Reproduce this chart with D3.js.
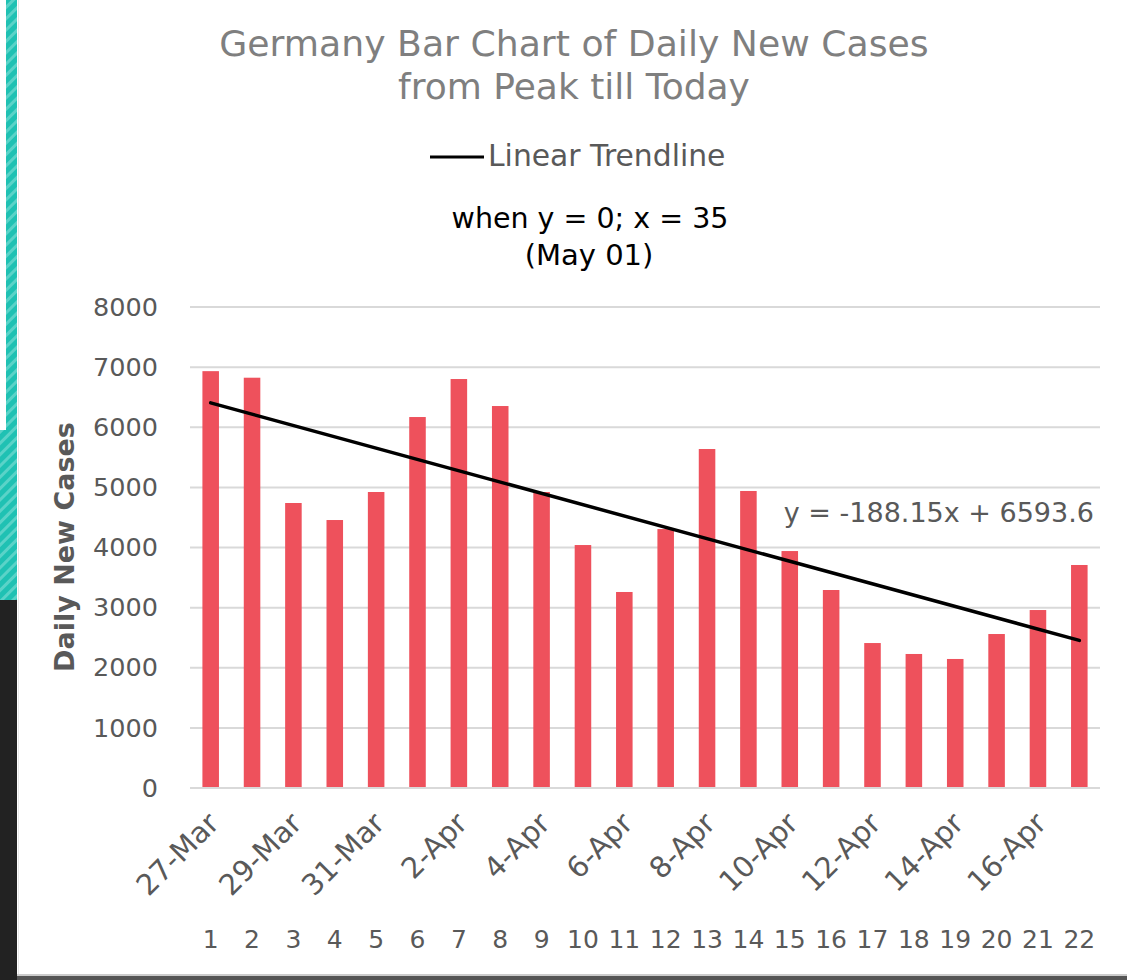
<!DOCTYPE html>
<html>
<head>
<meta charset="utf-8">
<script src="https://d3js.org/d3.v7.min.js"></script>
<style>
  body { margin: 0; background: #fff; }
  svg { display: block; }
</style>
</head>
<body>
<div id="chart"></div>
<script>
// daily new cases, Germany, 27-Mar .. 17-Apr
var dayNums = d3.range(1, 23);
var dateLabels = ["27-Mar","28-Mar","29-Mar","30-Mar","31-Mar","1-Apr","2-Apr","3-Apr","4-Apr","5-Apr","6-Apr",
                  "7-Apr","8-Apr","9-Apr","10-Apr","11-Apr","12-Apr","13-Apr","14-Apr","15-Apr","16-Apr","17-Apr"];
var cases = [6933, 6824, 4740, 4457, 4923, 6170, 6802, 6353, 4923, 4041, 3260,
             4307, 5638, 4940, 3941, 3293, 2411, 2229, 2146, 2561, 2960, 3709];
var yTicks = [0, 1000, 2000, 3000, 4000, 5000, 6000, 7000, 8000];
var slope = -188.15, intercept = 6593.6;

var W = 1127, H = 980;
var margin = {top: 307, right: 27, bottom: 192, left: 190},
    width = W - margin.left - margin.right,
    height = H - margin.top - margin.bottom;

var font = "DejaVu Sans";
var grey = "#595959";

var root = d3.select("#chart").append("svg")
    .attr("width", W)
    .attr("height", H)
    .style("font-family", font);

// slide decoration on the left edge
var defs = root.append("defs");
var pat = defs.append("pattern")
    .attr("id", "stripes")
    .attr("patternUnits", "userSpaceOnUse")
    .attr("width", 8).attr("height", 8)
    .attr("patternTransform", "rotate(45)");
pat.append("rect").attr("width", 8).attr("height", 8).attr("fill", "#1fc1b3");
pat.append("rect").attr("width", 3).attr("height", 8).attr("fill", "#5ad3c8");

root.append("rect").attr("x", 6).attr("y", 0).attr("width", 11).attr("height", 430).attr("fill", "url(#stripes)");
root.append("rect").attr("x", 0).attr("y", 430).attr("width", 17).attr("height", 170).attr("fill", "url(#stripes)");
root.append("rect").attr("x", 0).attr("y", 600).attr("width", 17).attr("height", 380).attr("fill", "#222");
root.append("line").attr("x1", 18.5).attr("x2", 18.5).attr("y1", 0).attr("y2", H).attr("stroke", "#e6e6e6");
root.append("rect").attr("x", 17).attr("y", 975).attr("width", W).attr("height", 5).attr("fill", "#555");
root.append("rect").attr("x", 17).attr("y", 974).attr("width", W).attr("height", 2).attr("fill", "#ccc");

// titles
root.append("text").attr("x", 574).attr("y", 56).attr("text-anchor", "middle")
    .attr("font-size", 36.2).attr("fill", "#7f7f7f").text("Germany Bar Chart of Daily New Cases");
root.append("text").attr("x", 574).attr("y", 99).attr("text-anchor", "middle")
    .attr("font-size", 36).attr("fill", "#7f7f7f").text("from Peak till Today");

// legend
root.append("line").attr("x1", 430).attr("x2", 484).attr("y1", 157).attr("y2", 157)
    .attr("stroke", "#000").attr("stroke-width", 3);
root.append("text").attr("x", 488).attr("y", 166).attr("font-size", 29.8).attr("fill", grey).text("Linear Trendline");

root.append("text").attr("x", 590).attr("y", 228).attr("text-anchor", "middle")
    .attr("font-size", 28.5).attr("fill", "#000").text("when y = 0; x = 35");
root.append("text").attr("x", 589).attr("y", 265).attr("text-anchor", "middle")
    .attr("font-size", 29).attr("fill", "#000").text("(May 01)");

var svg = root.append("g")
    .attr("transform", "translate(" + margin.left + "," + margin.top + ")");

var x = d3.scaleBand()
    .domain(dayNums)
    .range([0, width])
    .paddingInner(0.6)
    .paddingOuter(0.3);

var y = d3.scaleLinear()
    .domain([0, 8000])
    .range([height, 0]);

// gridlines
svg.append("g")
  .selectAll("line")
  .data(yTicks)
  .enter()
  .append("line")
    .attr("x1", 0).attr("x2", width)
    .attr("y1", function(d) { return y(d); })
    .attr("y2", function(d) { return y(d); })
    .attr("stroke", "#d9d9d9")
    .attr("stroke-width", 2);

// y axis labels
var yAxis = svg.append("g")
    .call(d3.axisLeft(y).tickValues(yTicks).tickSize(0).tickPadding(32).tickFormat(d3.format("d")));
yAxis.select(".domain").remove();
yAxis.selectAll("text")
    .attr("font-family", font)
    .attr("font-size", 25.5)
    .attr("fill", grey);

// axis title
root.append("text")
    .attr("transform", "translate(74,547) rotate(-90)")
    .attr("text-anchor", "middle")
    .attr("font-size", 27)
    .attr("font-weight", "bold")
    .attr("fill", grey)
    .text("Daily New Cases");

// bars
svg.selectAll("rect.bar")
  .data(cases)
  .enter()
  .append("rect")
    .attr("class", "bar")
    .attr("x", function(d, i) { return x(dayNums[i]); })
    .attr("y", function(d) { return y(d); })
    .attr("width", x.bandwidth())
    .attr("height", function(d) { return height - y(d); })
    .attr("fill", "#ee515c");

// baseline
svg.append("line")
    .attr("x1", 0).attr("x2", width)
    .attr("y1", height).attr("y2", height)
    .attr("stroke", "#d9d9d9").attr("stroke-width", 2);

// trendline
var first = dayNums[0], last = dayNums[dayNums.length - 1];
svg.append("line")
    .attr("x1", x(first) + x.bandwidth() / 2)
    .attr("x2", x(last) + x.bandwidth() / 2)
    .attr("y1", y(slope * first + intercept))
    .attr("y2", y(slope * last + intercept))
    .attr("stroke", "#000")
    .attr("stroke-width", 3.5)
    .attr("stroke-linecap", "round");

root.append("text").attr("x", 1094).attr("y", 522).attr("text-anchor", "end")
    .attr("font-size", 27).attr("fill", grey).text("y = -188.15x + 6593.6");

// date labels, every other day
svg.selectAll("text.date")
  .data(dateLabels)
  .enter()
  .filter(function(d, i) { return i % 2 === 0; })
  .append("text")
    .attr("class", "date")
    .attr("transform", function(d) {
      var i = dateLabels.indexOf(d);
      return "translate(" + (x(dayNums[i]) + x.bandwidth() / 2 + 10) + "," + (height + 37) + ") rotate(-45)";
    })
    .attr("text-anchor", "end")
    .attr("font-size", 29)
    .attr("fill", grey)
    .text(function(d) { return d; });

// day numbers row
svg.selectAll("text.num")
  .data(dayNums)
  .enter()
  .append("text")
    .attr("class", "num")
    .attr("x", function(d) { return x(d) + x.bandwidth() / 2; })
    .attr("y", height + 160)
    .attr("text-anchor", "middle")
    .attr("font-size", 25)
    .attr("fill", grey)
    .text(function(d) { return d; });
</script>
</body>
</html>
